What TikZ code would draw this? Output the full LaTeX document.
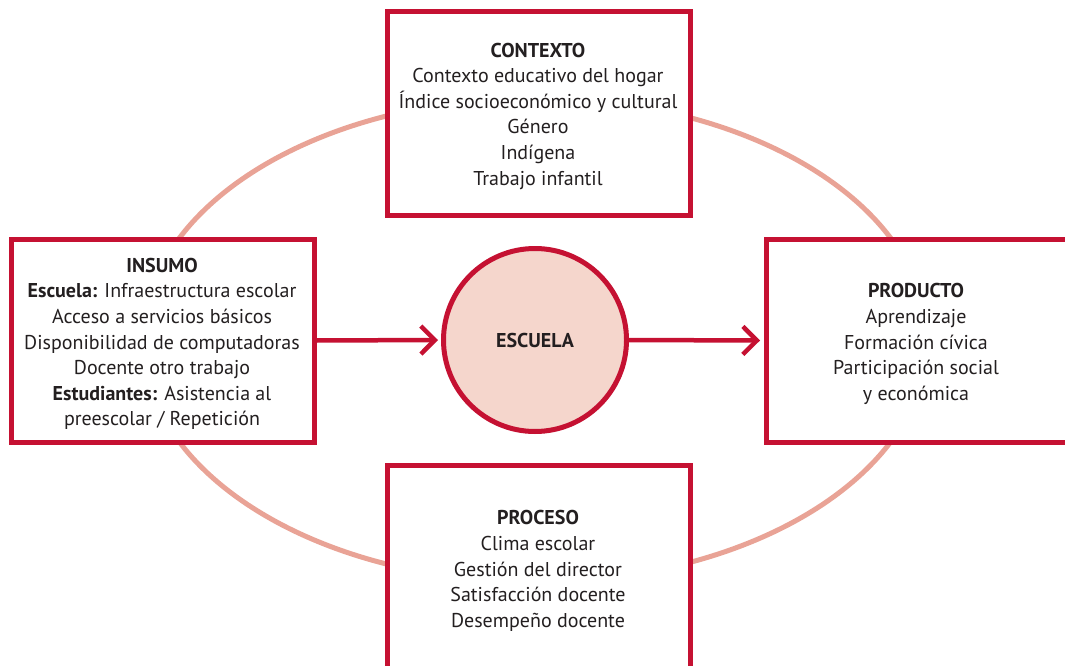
\documentclass[tikz,border=0pt]{standalone}
\usepackage{fontspec}
\setmainfont{PT Sans}
\usetikzlibrary{arrows.meta}
\definecolor{crim}{RGB}{197,17,50}
\definecolor{salmon}{RGB}{233,163,150}
\definecolor{pinkfill}{RGB}{245,214,204}
\definecolor{txt}{RGB}{35,31,32}
\begin{document}
\begin{tikzpicture}[x=1pt,y=-1pt,
  box/.style={draw=crim,line width=5pt,fill=white,inner sep=0pt,minimum width=303pt,text=txt,align=center},
  lbl/.style={text=txt,align=center,font=\fontsize{20}{25.6}\selectfont},
  flow/.style={draw=crim,line width=4.5pt,-{Straight Barb[length=14pt,width=28pt,line width=4.5pt]}}]
\useasboundingbox (0,0) rectangle (1065,666);
\clip (0,0) rectangle (1065,666);
% ellipse
\draw[salmon,line width=5pt] (535,340) ellipse [x radius=392, y radius=242];
% boxes
\node[box,minimum height=203.5pt] (ctx) at (538.5,113.75) {};
\node[box,minimum height=203pt] (ins) at (162.5,340.5) {};
\node[box,minimum height=203pt] (prod) at (918,340.5) {};
\node[box,minimum height=205pt] (proc) at (538.75,567.5) {};
% texts
\node[lbl] (ctxt) at (538,116) {\textbf{CONTEXTO}\\Contexto educativo del hogar\\Índice socioeconómico y cultural\\Género\\Indígena\\Trabajo infantil};
\node[lbl] (inst) at (162,344) {\textbf{INSUMO}\\\textbf{Escuela:} Infraestructura escolar\\Acceso a servicios básicos\\Disponibilidad de computadoras\\Docente otro trabajo\\\textbf{Estudiantes:} Asistencia al\\preescolar / Repetición};
\node[lbl] (prodt) at (916,344) {\textbf{PRODUCTO}\\Aprendizaje\\Formación cívica\\Participación social\\y económica};
\node[lbl] (proct) at (538,571) {\textbf{PROCESO}\\Clima escolar\\Gestión del director\\Satisfacción docente\\Desempeño docente};
% circle
\node[circle,draw=crim,line width=5pt,fill=pinkfill,minimum size=183pt,inner sep=0pt,text=txt,font=\fontsize{20}{25.6}\selectfont\bfseries] (esc) at (535,340) {ESCUELA};
% arrows
\draw[flow] (ins.east) -- ([xshift=-3pt]esc.west);
\draw[flow] (esc.east) -- ([xshift=-4pt]prod.west);
\end{tikzpicture}
\end{document}
